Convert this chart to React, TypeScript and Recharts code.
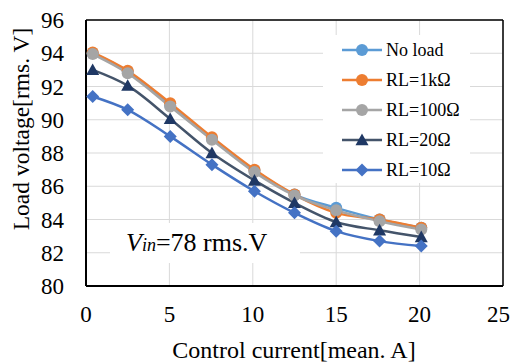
import React from "react";
import { LineChart, Line, XAxis, YAxis, CartesianGrid, ReferenceLine } from "recharts";

const currents = [0.4, 2.5, 5.05, 7.55, 10.1, 12.5, 15.0, 17.6, 20.1];
const noLoad = [94.0, 92.9, 90.85, 88.85, 86.95, 85.5, 84.7, 84.0, 83.5];
const rl1k = [94.05, 92.95, 91.0, 88.95, 87.0, 85.5, 84.4, 84.0, 83.5];
const rl100 = [93.95, 92.8, 90.8, 88.8, 86.85, 85.45, 84.55, 83.9, 83.4];
const rl20 = [93.0, 92.05, 90.05, 88.0, 86.35, 85.0, 83.85, 83.35, 82.95];
const rl10 = [91.4, 90.6, 89.0, 87.3, 85.7, 84.4, 83.3, 82.7, 82.4];

const xTicks = [0, 5, 10, 15, 20, 25];
const yTicks = [80, 82, 84, 86, 88, 90, 92, 94, 96];

const FONT = "'Liberation Serif', 'Times New Roman', serif";

const data = currents.map((x, i) => ({
  x,
  noLoad: noLoad[i],
  rl1k: rl1k[i],
  rl100: rl100[i],
  rl20: rl20[i],
  rl10: rl10[i],
}));

type Marker = "circle" | "triangle" | "diamond";

const series: { key: string; name: string; line: string; fill: string; marker: Marker }[] = [
  { key: "noLoad", name: "No load", line: "#5B9BD5", fill: "#5B9BD5", marker: "circle" },
  { key: "rl1k", name: "RL=1kΩ", line: "#ED7D31", fill: "#ED7D31", marker: "circle" },
  { key: "rl100", name: "RL=100Ω", line: "#A5A5A5", fill: "#A5A5A5", marker: "circle" },
  { key: "rl20", name: "RL=20Ω", line: "#44546A", fill: "#1F3864", marker: "triangle" },
  { key: "rl10", name: "RL=10Ω", line: "#4472C4", fill: "#4472C4", marker: "diamond" },
];

function MarkerShape({ cx, cy, marker, fill }: { cx: number; cy: number; marker: Marker; fill: string }) {
  if (cx == null || cy == null) return null;
  if (marker === "triangle") {
    const s = 6.5;
    return <path d={`M${cx},${cy - s} L${cx + s},${cy + s * 0.8} L${cx - s},${cy + s * 0.8} Z`} fill={fill} />;
  }
  if (marker === "diamond") {
    const s = 6.5;
    return <path d={`M${cx},${cy - s} L${cx + s},${cy} L${cx},${cy + s} L${cx - s},${cy} Z`} fill={fill} />;
  }
  return <circle cx={cx} cy={cy} r={6} fill={fill} />;
}

export default function App() {
  return (
    <div style={{ position: "absolute", left: 0, top: 0, width: 510, height: 363, background: "#fff", fontFamily: FONT }}>
      <LineChart width={510} height={363} data={data} margin={{ top: 20, right: 7, bottom: 0, left: 0 }}>
        <CartesianGrid stroke="#d9d9d9" strokeWidth={1} />
        <XAxis
          type="number"
          dataKey="x"
          domain={[0, 25]}
          ticks={xTicks}
          height={77}
          tickLine={false}
          tickSize={0}
          tickMargin={20}
          axisLine={{ stroke: "#000", strokeWidth: 2 }}
          tick={{ fill: "#000", fontSize: 23, fontFamily: FONT }}
          label={{
            content: () => (
              <text x={294} y={358} textAnchor="middle" fill="#000" fontSize={24} fontFamily={FONT}>
                Control current[mean. A]
              </text>
            ),
          }}
        />
        <YAxis
          type="number"
          domain={[80, 96]}
          ticks={yTicks}
          width={86}
          tickLine={false}
          tickSize={0}
          tickMargin={22}
          axisLine={{ stroke: "#000", strokeWidth: 2 }}
          tick={{ fill: "#000", fontSize: 23, fontFamily: FONT }}
          label={{
            content: () => (
              <text
                x={21}
                y={129}
                transform="rotate(-90 21 129)"
                textAnchor="middle"
                dominantBaseline="central"
                fill="#000"
                fontSize={23.5}
                fontFamily={FONT}
              >
                Load voltage[rms. V]
              </text>
            ),
          }}
        />
        <ReferenceLine y={96} stroke="#000" strokeWidth={1.5} />
        <ReferenceLine x={25} stroke="#000" strokeWidth={1.5} />
        {series.map((s) => (
          <Line
            key={s.key}
            dataKey={s.key}
            name={s.name}
            type="monotone"
            stroke={s.line}
            strokeWidth={2.5}
            isAnimationActive={false}
            activeDot={false}
            dot={(p: any) => <MarkerShape key={`${s.key}-${p.index}`} cx={p.cx} cy={p.cy} marker={s.marker} fill={s.fill} />}
          />
        ))}
      </LineChart>

      {/* legend box */}
      <div
        style={{
          position: "absolute",
          left: 323,
          top: 35,
          width: 147,
          height: 148,
          background: "#fff",
          boxSizing: "border-box",
          paddingTop: 0,
        }}
      >
        {series.map((s) => (
          <div key={s.key} style={{ display: "flex", alignItems: "center", height: 30, paddingLeft: 19 }}>
            <svg width={42} height={16} style={{ display: "block" }}>
              <line x1={0} y1={8} x2={40} y2={8} stroke={s.line} strokeWidth={2.5} />
              <MarkerShape cx={20} cy={8} marker={s.marker} fill={s.fill} />
            </svg>
            <span style={{ fontSize: 18, color: "#000", marginLeft: 2, lineHeight: "18px" }}>{s.name}</span>
          </div>
        ))}
      </div>

      {/* input voltage annotation */}
      <div
        style={{
          position: "absolute",
          left: 110,
          top: 223,
          width: 190,
          height: 40,
          background: "#fff",
          boxSizing: "border-box",
          paddingLeft: 16,
          paddingTop: 6,
          fontSize: 26,
          color: "#000",
          lineHeight: "28px",
          whiteSpace: "nowrap",
        }}
      >
        <i>V</i>
        <i style={{ fontSize: 18 }}>in</i>=78 rms.V
      </div>
    </div>
  );
}
